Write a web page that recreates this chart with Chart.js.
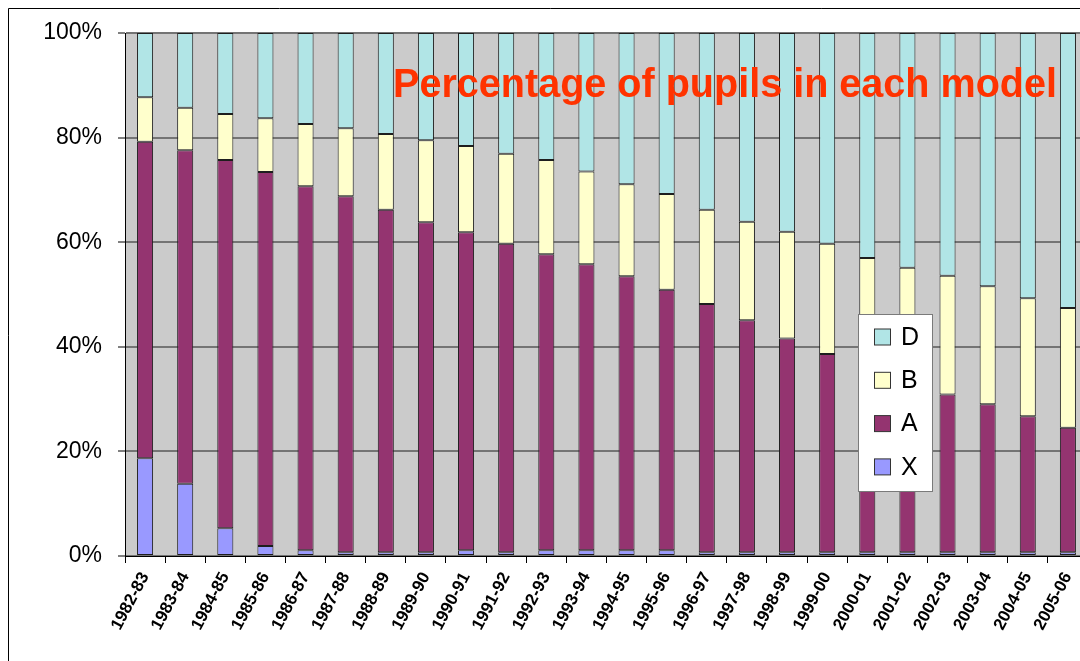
<!DOCTYPE html>
<html>
<head>
<meta charset="utf-8">
<title>Percentage of pupils in each model</title>
<script src="https://cdn.jsdelivr.net/npm/chart.js@4.4.1/dist/chart.umd.min.js"></script>
<style>
  html, body { margin: 0; padding: 0; background: #ffffff; overflow: hidden; }
  #wrap { position: relative; width: 1080px; height: 661px; overflow: hidden; }
  canvas { display: block; }
</style>
</head>
<body>
<div id="wrap"><canvas id="chart" width="1092" height="661"></canvas></div>
<script>
// School years on the category axis
const categories = [
  '1982-83', '1983-84', '1984-85', '1985-86', '1986-87', '1987-88',
  '1988-89', '1989-90', '1990-91', '1991-92', '1992-93', '1993-94',
  '1994-95', '1995-96', '1996-97', '1997-98', '1998-99', '1999-00',
  '2000-01', '2001-02', '2002-03', '2003-04', '2004-05', '2005-06'
];

// Share of pupils (%) in each model, per year
const seriesX = [18.7, 13.8, 5.3, 1.9, 1.1, 0.7, 0.7, 0.7, 1.1, 0.7, 1.1, 1.1,
                 1.1, 1.1, 0.7, 0.7, 0.7, 0.7, 0.7, 0.7, 0.7, 0.7, 0.7, 0.7];
const seriesA = [60.5, 63.8, 70.4, 71.5, 69.6, 68.1, 65.5, 63.1, 60.8, 59.0, 56.6, 54.7,
                 52.4, 49.8, 47.5, 44.4, 40.9, 37.9, 35.2, 32.7, 30.2, 28.3, 26.0, 23.8];
const seriesB = [8.5, 8.1, 8.8, 10.3, 11.9, 13.0, 14.5, 15.7, 16.5, 17.2, 18.0, 17.7,
                 17.6, 18.3, 18.0, 18.8, 20.4, 21.1, 21.1, 21.7, 22.7, 22.6, 22.6, 22.9];
const seriesD = [12.3, 14.3, 15.5, 16.3, 17.4, 18.2, 19.3, 20.5, 21.6, 23.1, 24.3, 26.5,
                 28.9, 30.8, 33.8, 36.1, 38.0, 40.3, 43.0, 44.9, 46.4, 48.4, 50.7, 52.6];

const yTicks = [0, 20, 40, 60, 80, 100];
const chartTitle = 'Percentage of pupils in each model';

const FONT = '"Liberation Sans", Arial, Helvetica, sans-serif';

// Grey plot background and outer frame
const backdrop = {
  id: 'backdrop',
  beforeDraw(chart) {
    const { ctx, chartArea: a } = chart;
    ctx.save();
    ctx.fillStyle = '#cbcbcb';
    ctx.fillRect(a.left, a.top, a.right - a.left, a.bottom - a.top);
    ctx.restore();
  },
  afterDraw(chart) {
    const ctx = chart.ctx;
    ctx.save();
    ctx.strokeStyle = '#000000';
    ctx.lineWidth = 1;
    ctx.beginPath();
    ctx.moveTo(8.5, chart.height + 5);
    ctx.lineTo(8.5, 8.5);
    ctx.lineTo(chart.width + 5, 8.5);
    ctx.stroke();
    ctx.restore();
  }
};

// Red heading over the bars and the boxed legend inside the plot
const overlay = {
  id: 'overlay',
  afterDatasetsDraw(chart) {
    const ctx = chart.ctx;
    ctx.save();
    ctx.fillStyle = '#ff3300';
    ctx.font = 'bold 40px ' + FONT;
    ctx.textAlign = 'left';
    ctx.textBaseline = 'alphabetic';
    ctx.fillText(chartTitle, 393, 97, 664);

    // legend box
    const bx = 858.5, by = 314.5, bw = 74, bh = 177;
    ctx.fillStyle = '#ffffff';
    ctx.fillRect(bx, by, bw, bh);
    ctx.strokeStyle = '#7a7a7a';
    ctx.lineWidth = 1;
    ctx.strokeRect(bx, by, bw, bh);

    const order = [3, 2, 1, 0];
    ctx.font = '25px ' + FONT;
    ctx.textBaseline = 'middle';
    order.forEach((di, i) => {
      const ds = chart.data.datasets[di];
      const cy = 337 + i * 43.3;
      ctx.fillStyle = ds.backgroundColor;
      ctx.fillRect(874.5, cy - 8, 16, 16);
      ctx.strokeStyle = '#333333';
      ctx.strokeRect(874.5, cy - 8, 16, 16);
      ctx.fillStyle = '#000000';
      ctx.fillText(ds.label, 901, cy + 1);
    });
    ctx.restore();
  }
};

const barStyle = {
  borderColor: '#1e1e1e',
  borderWidth: 1,
  borderSkipped: false,
  barPercentage: 0.4,
  categoryPercentage: 1.0
};

new Chart(document.getElementById('chart'), {
  type: 'bar',
  data: {
    labels: categories,
    datasets: [
      Object.assign({ label: 'X', data: seriesX, backgroundColor: '#9999ff' }, barStyle),
      Object.assign({ label: 'A', data: seriesA, backgroundColor: '#943470' }, barStyle),
      Object.assign({ label: 'B', data: seriesB, backgroundColor: '#ffffcc' }, barStyle),
      Object.assign({ label: 'D', data: seriesD, backgroundColor: '#b1e5e6' }, barStyle)
    ]
  },
  options: {
    responsive: false,
    animation: false,
    layout: { padding: { top: 33, right: 4, bottom: 0, left: 0 } },
    plugins: {
      legend: { display: false },
      title: { display: false },
      tooltip: { enabled: false }
    },
    scales: {
      x: {
        stacked: true,
        offset: true,
        grid: {
          display: true,
          offset: true,
          drawOnChartArea: false,
          drawTicks: true,
          tickLength: 7,
          tickColor: '#000000',
          tickWidth: 1
        },
        border: { display: true, color: '#000000', width: 1 },
        ticks: {
          autoSkip: false,
          minRotation: 62,
          maxRotation: 62,
          padding: 6,
          color: '#000000',
          font: { family: FONT, size: 17, weight: 'bold' }
        },
        afterFit(scale) { scale.height = 105; }
      },
      y: {
        stacked: true,
        min: 0,
        max: 100,
        afterBuildTicks(scale) { scale.ticks = yTicks.map(v => ({ value: v })); },
        grid: {
          color: '#747474',
          lineWidth: 2,
          drawTicks: true,
          tickLength: 7,
          tickColor: '#000000',
          tickWidth: 1
        },
        border: { display: true, color: '#000000', width: 1 },
        ticks: {
          padding: 16,
          color: '#000000',
          font: { family: FONT, size: 23 },
          callback: v => v + '%'
        },
        afterFit(scale) { scale.width = 125; }
      }
    }
  },
  plugins: [backdrop, overlay]
});
</script>
</body>
</html>
